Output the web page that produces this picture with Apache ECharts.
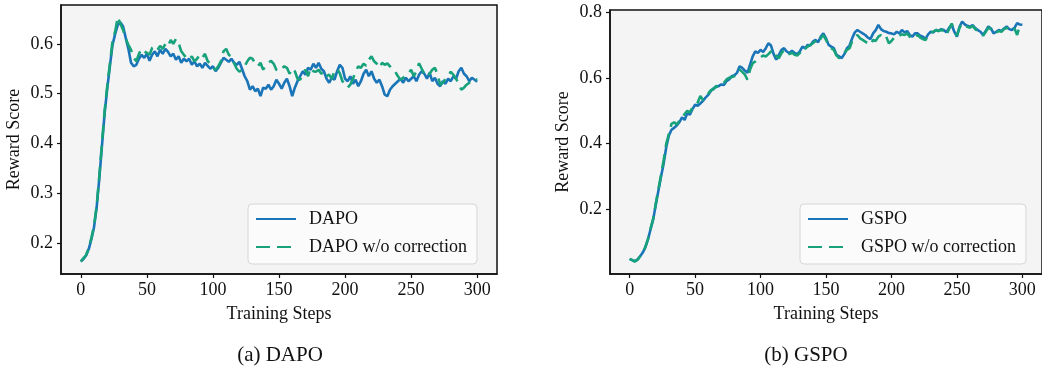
<!DOCTYPE html>
<html>
<head>
<meta charset="utf-8">
<script src="https://cdn.jsdelivr.net/npm/echarts@6/dist/echarts.min.js"></script>
<style>
html,body{margin:0;padding:0;background:#fff;}
#chart{width:1042px;height:373px;}
</style>
</head>
<body>
<div id="chart"></div>
<script>
// Training steps sampled every 2 steps (0..300)
const STEP_START = 0, STEP_END = 300, STEP_SIZE = 2;
const steps = [];
for (let s = STEP_START; s <= STEP_END; s += STEP_SIZE) steps.push(s);

const xTicks = [0, 50, 100, 150, 200, 250, 300];
const yTicksA = [0.2, 0.3, 0.4, 0.5, 0.6];
const yTicksB = [0.2, 0.4, 0.6, 0.8];

const dapo = [
  0.163,0.168,0.175,0.188,0.208,0.232,0.272,0.330,0.395,0.460,
  0.510,0.555,0.598,0.620,0.638,0.643,0.635,0.612,0.590,0.562,
  0.555,0.558,0.570,0.578,0.572,0.580,0.566,0.578,0.585,0.575,
  0.588,0.580,0.590,0.584,0.575,0.580,0.568,0.575,0.562,0.570,
  0.565,0.570,0.558,0.565,0.555,0.560,0.552,0.562,0.556,0.550,
  0.555,0.545,0.552,0.562,0.572,0.568,0.564,0.570,0.562,0.558,
  0.564,0.550,0.535,0.525,0.508,0.515,0.505,0.510,0.495,0.512,
  0.510,0.518,0.508,0.515,0.528,0.520,0.510,0.522,0.530,0.515,
  0.495,0.512,0.525,0.535,0.545,0.538,0.552,0.548,0.560,0.552,
  0.562,0.550,0.545,0.530,0.522,0.532,0.528,0.545,0.558,0.552,
  0.530,0.525,0.535,0.520,0.528,0.515,0.525,0.540,0.548,0.535,
  0.545,0.530,0.522,0.528,0.515,0.498,0.495,0.508,0.515,0.520,
  0.525,0.530,0.522,0.532,0.525,0.530,0.535,0.525,0.538,0.545,
  0.540,0.530,0.542,0.525,0.532,0.520,0.515,0.525,0.520,0.530,
  0.525,0.535,0.530,0.545,0.552,0.540,0.535,0.525,0.532,0.528,
  0.524
];
const dapoNoCorr = [
  0.163,0.170,0.176,0.190,0.210,0.235,0.275,0.335,0.400,0.465,
  0.515,0.560,0.605,0.625,0.654,0.640,0.628,0.610,0.598,0.588,
  0.572,0.565,0.580,0.590,0.585,0.582,0.578,0.592,0.595,0.588,
  0.596,0.590,0.600,0.595,0.608,0.600,0.610,0.602,0.585,0.578,
  0.572,0.568,0.575,0.565,0.570,0.578,0.572,0.580,0.565,0.561,
  0.552,0.548,0.555,0.565,0.585,0.590,0.578,0.575,0.561,0.550,
  0.544,0.548,0.555,0.565,0.572,0.570,0.560,0.555,0.562,0.548,
  0.558,0.562,0.566,0.560,0.548,0.545,0.550,0.555,0.552,0.540,
  0.551,0.545,0.530,0.528,0.540,0.548,0.535,0.552,0.545,0.544,
  0.548,0.540,0.545,0.535,0.538,0.530,0.545,0.550,0.541,0.525,
  0.520,0.512,0.518,0.530,0.545,0.555,0.552,0.560,0.556,0.568,
  0.575,0.565,0.560,0.552,0.562,0.558,0.561,0.555,0.548,0.544,
  0.535,0.528,0.532,0.538,0.541,0.548,0.535,0.545,0.561,0.550,
  0.540,0.534,0.540,0.548,0.552,0.538,0.518,0.522,0.530,0.535,
  0.544,0.538,0.530,0.520,0.508,0.512,0.518,0.522,0.525,0.530,
  0.528
];
const gspo = [
  0.050,0.046,0.043,0.048,0.058,0.069,0.085,0.109,0.140,0.170,
  0.215,0.258,0.300,0.340,0.390,0.425,0.442,0.448,0.455,0.465,
  0.480,0.472,0.492,0.488,0.505,0.518,0.515,0.522,0.530,0.540,
  0.548,0.560,0.568,0.572,0.575,0.580,0.578,0.590,0.595,0.605,
  0.608,0.615,0.635,0.630,0.622,0.615,0.640,0.665,0.680,0.676,
  0.685,0.678,0.690,0.705,0.698,0.672,0.655,0.670,0.685,0.690,
  0.680,0.675,0.682,0.676,0.672,0.680,0.695,0.690,0.700,0.698,
  0.710,0.715,0.708,0.725,0.735,0.720,0.700,0.695,0.690,0.670,
  0.665,0.660,0.672,0.690,0.698,0.720,0.738,0.745,0.740,0.735,
  0.730,0.722,0.718,0.735,0.745,0.761,0.748,0.742,0.740,0.736,
  0.735,0.732,0.740,0.735,0.745,0.738,0.742,0.730,0.725,0.735,
  0.735,0.728,0.725,0.718,0.732,0.740,0.738,0.745,0.742,0.748,
  0.745,0.738,0.752,0.761,0.740,0.725,0.755,0.771,0.762,0.758,
  0.755,0.760,0.751,0.745,0.740,0.730,0.742,0.756,0.750,0.735,
  0.740,0.745,0.742,0.750,0.756,0.748,0.745,0.752,0.766,0.762,
  0.761
];
const gspoNoCorr = [
  0.050,0.046,0.042,0.047,0.057,0.068,0.086,0.110,0.142,0.172,
  0.218,0.262,0.305,0.350,0.400,0.430,0.460,0.465,0.458,0.470,
  0.478,0.490,0.500,0.495,0.510,0.515,0.525,0.545,0.532,0.545,
  0.552,0.562,0.565,0.575,0.572,0.580,0.585,0.595,0.600,0.602,
  0.605,0.612,0.625,0.618,0.610,0.594,0.625,0.644,0.650,0.660,
  0.662,0.668,0.665,0.672,0.680,0.685,0.665,0.660,0.675,0.685,
  0.678,0.672,0.676,0.670,0.668,0.675,0.690,0.688,0.695,0.700,
  0.705,0.712,0.705,0.720,0.730,0.715,0.700,0.690,0.685,0.668,
  0.660,0.665,0.675,0.685,0.690,0.712,0.725,0.730,0.720,0.715,
  0.710,0.705,0.700,0.715,0.712,0.725,0.730,0.720,0.725,0.705,
  0.712,0.722,0.730,0.728,0.732,0.730,0.735,0.725,0.718,0.722,
  0.730,0.722,0.718,0.715,0.728,0.738,0.740,0.745,0.742,0.746,
  0.742,0.730,0.748,0.765,0.745,0.728,0.752,0.765,0.760,0.755,
  0.752,0.758,0.748,0.742,0.736,0.728,0.740,0.752,0.748,0.735,
  0.738,0.742,0.740,0.748,0.752,0.746,0.742,0.750,0.730,0.758,
  0.758
];

const BLUE = '#1a74b8';
const GREEN = '#17a27b';
const FONT = 'Liberation Serif';

function pairs(vals) { return steps.map((s, i) => [s, vals[i]]); }

function xAxis(gridIndex) {
  return {
    type: 'value', gridIndex, min: -15, max: 315,
    name: 'Training Steps', nameLocation: 'middle', nameGap: 31,
    nameTextStyle: { fontFamily: FONT, fontSize: 18, color: '#111' },
    splitLine: { show: false },
    axisLine: { show: true, onZero: false, lineStyle: { color: '#111', width: 1.5 } },
    axisTick: { show: true, length: 4, customValues: xTicks, lineStyle: { color: '#111', width: 1.2 } },
    axisLabel: { customValues: xTicks, fontFamily: FONT, fontSize: 18, color: '#111', margin: 7 }
  };
}
function yAxis(gridIndex, min, max, ticks) {
  return {
    type: 'value', gridIndex, min, max,
    name: 'Reward Score', nameLocation: 'middle', nameGap: 38, nameRotate: 90,
    nameTextStyle: { fontFamily: FONT, fontSize: 18, color: '#111' },
    splitLine: { show: false },
    axisLine: { show: true, onZero: false, lineStyle: { color: '#111', width: 1.5 } },
    axisTick: { show: true, length: 4, customValues: ticks, lineStyle: { color: '#111', width: 1.2 } },
    axisLabel: { customValues: ticks, fontFamily: FONT, fontSize: 18, color: '#111', margin: 8,
      formatter: v => v.toFixed(1) }
  };
}
function legend(left, names) {
  return {
    left, top: 204, orient: 'vertical', data: names,
    itemWidth: 40, itemHeight: 14, itemGap: 8,
    padding: [5, 10, 7, 7],
    itemStyle: { opacity: 0 },
    backgroundColor: 'rgba(252,252,252,0.9)', borderColor: '#d6d6d6', borderWidth: 1, borderRadius: 4,
    textStyle: { fontFamily: FONT, fontSize: 18, color: '#111', lineHeight: 20, padding: [0, 0, 0, 8] }
  };
}
function line(name, xi, vals, color, dashed) {
  return {
    name, type: 'line', xAxisIndex: xi, yAxisIndex: xi, data: pairs(vals),
    symbol: 'none', showSymbol: false, animation: false,
    lineStyle: { color, width: 2.6, type: dashed ? [14, 7] : 'solid' },
    itemStyle: { color }
  };
}

const chart = echarts.init(document.getElementById('chart'), null, { renderer: 'canvas' });
chart.setOption({
  animation: false,
  backgroundColor: '#fff',
  grid: [
    { left: 61, top: 5, width: 436, height: 269, show: true, backgroundColor: '#f4f4f4', borderColor: '#111', borderWidth: 1.5 },
    { left: 610, top: 10, width: 435, height: 264, show: true, backgroundColor: '#f4f4f4', borderColor: '#111', borderWidth: 1.5 }
  ],
  xAxis: [xAxis(0), xAxis(1)],
  yAxis: [yAxis(0, 0.138, 0.678, yTicksA), yAxis(1, 0.004, 0.806, yTicksB)],
  legend: [legend(248, ['DAPO', 'DAPO w/o correction']), legend(800, ['GSPO', 'GSPO w/o correction'])],
  series: [
    line('DAPO', 0, dapo, BLUE, false),
    line('DAPO w/o correction', 0, dapoNoCorr, GREEN, true),
    line('GSPO', 1, gspo, BLUE, false),
    line('GSPO w/o correction', 1, gspoNoCorr, GREEN, true)
  ],
  graphic: [
    { type: 'text', x: 280, y: 355, style: { text: '(a) DAPO', fontFamily: FONT, fontSize: 21, fill: '#111', align: 'center', verticalAlign: 'middle' } },
    { type: 'text', x: 806, y: 355, style: { text: '(b) GSPO', fontFamily: FONT, fontSize: 21, fill: '#111', align: 'center', verticalAlign: 'middle' } }
  ]
});
</script>
</body>
</html>
